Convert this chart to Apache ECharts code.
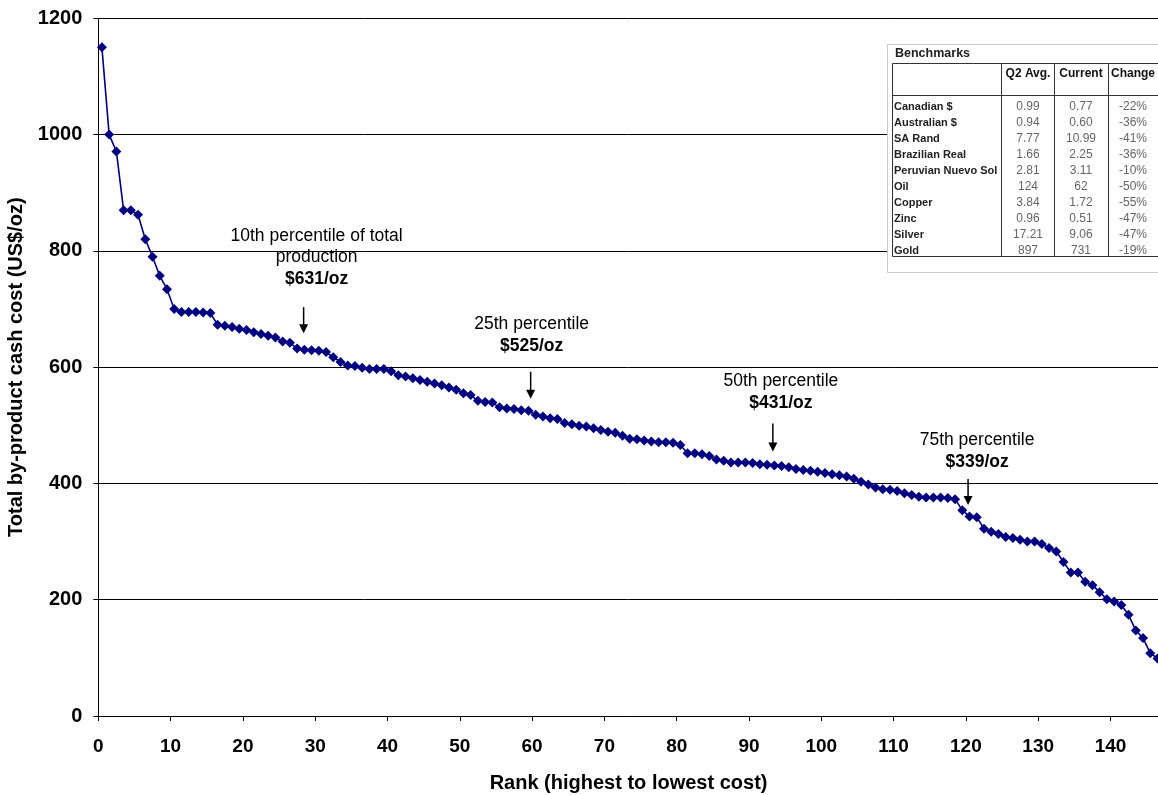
<!DOCTYPE html>
<html><head><meta charset="utf-8">
<script src="https://cdn.jsdelivr.net/npm/echarts@6/dist/echarts.min.js"></script>
<style>html,body{margin:0;padding:0;background:#fff}#c{width:1158px;height:795px}</style>
</head><body><div id="c"></div>
<script>
// Total by-product cash cost (US$/oz), ranked highest to lowest
const costs = [
  1150,1000,971,870,870,862,820,790,757,734,
  700,695,695,695,694,693,673,671,669,666,
  664,660,657,654,651,644,642,632,630,629,
  628,626,617,609,603,602,599,597,597,597,
  593,586,584,581,578,575,572,569,565,561,
  555,552,542,540,539,531,529,528,526,525,
  518,515,512,511,504,502,499,498,495,492,
  489,487,482,477,476,474,472,471,471,470,
  466,452,452,450,447,441,439,436,436,436,
  435,433,432,431,430,428,425,423,422,420,
  418,416,414,412,408,403,398,393,390,389,
  387,383,380,377,376,376,376,375,373,354,
  343,342,322,317,313,308,306,303,300,300,
  296,289,283,265,247,247,231,225,213,201,
  197,191,174,147,134,108,99
];
const xTickValues = [0,10,20,30,40,50,60,70,80,90,100,110,120,130,140];
const yTickValues = [0,200,400,600,800,1000,1200];

// percentile annotations
const pctLines = [['10th percentile of total','production'],['25th percentile'],['50th percentile'],['75th percentile']];
const pctValueText = ['$631/oz','$525/oz','$431/oz','$339/oz'];
const pctRank = [28.4, 59.8, 93.3, 120.3];
const pctCost = [631, 525, 431, 339];

// benchmarks table
const benchHeaders = ['Q2 Avg.','Current','Change'];
const benchNames = ['Canadian $','Australian $','SA Rand','Brazilian Real','Peruvian Nuevo Sol','Oil','Copper','Zinc','Silver','Gold'];
const benchQ2 = ['0.99','0.94','7.77','1.66','2.81','124','3.84','0.96','17.21','897'];
const benchCurrent = ['0.77','0.60','10.99','2.25','3.11','62','1.72','0.51','9.06','731'];
const benchChange = ['-22%','-36%','-41%','-36%','-10%','-50%','-55%','-47%','-47%','-19%'];

// layout (pixels) for annotations: dx of text, offsets above cost level
const annoLayout = [
  {dx:13, tip:16, top:42, val:70, lineGap:21},
  {dx:1,  tip:12, top:39, val:65, lineGap:21},
  {dx:8,  tip:14, top:42, val:62, lineGap:21},
  {dx:9,  tip:14, top:40, val:57, lineGap:21}
];

const FONT = '"Liberation Sans", Arial, sans-serif';
const chart = echarts.init(document.getElementById('c'), null, {renderer:'canvas'});

const seriesData = costs.map((v,i) => [i + 0.5, v]);

chart.setOption({
  animation: false,
  backgroundColor: '#fff',
  grid: {left: 98.3, top: 18.3, bottom: 79, right: -24.8, containLabel: false, outerBoundsMode: 'none'},
  xAxis: {
    type: 'value', min: 0, max: 150, interval: 10,
    name: 'Rank (highest to lowest cost)', nameLocation: 'middle', nameGap: 57,
    nameTextStyle: {fontFamily: FONT, fontWeight: 'bold', fontSize: 20, color: '#000', padding: [0, 24, 0, 0]},
    axisLine: {show: true, lineStyle: {color: '#000', width: 1}},
    axisTick: {show: true, inside: false, length: 5, lineStyle: {color: '#000'}},
    axisLabel: {fontFamily: FONT, fontWeight: 'bold', fontSize: 19, color: '#000', margin: 21,
      formatter: v => xTickValues.includes(v) ? String(v) : ''},
    splitLine: {show: false}
  },
  yAxis: {
    type: 'value', min: 0, max: 1200, interval: 200,
    name: 'Total by-product cash cost (US$/oz)', nameLocation: 'middle', nameGap: 68, nameRotate: 90,
    nameTextStyle: {fontFamily: FONT, fontWeight: 'bold', fontSize: 20, color: '#000'},
    axisLine: {show: true, lineStyle: {color: '#000', width: 1}},
    axisTick: {show: true, inside: false, length: 5, lineStyle: {color: '#000'}},
    axisLabel: {fontFamily: FONT, fontWeight: 'bold', fontSize: 20, color: '#000', margin: 16,
      formatter: v => yTickValues.includes(v) ? String(v) : ''},
    splitLine: {show: true, lineStyle: {color: '#000', width: 1}}
  },
  series: [{
    type: 'line', data: seriesData,
    lineStyle: {color: '#000080', width: 1.6},
    itemStyle: {color: '#000080'},
    symbol: 'diamond', symbolSize: 10, showAllSymbol: true,
    clip: false, z: 5
  }]
});

// ---- graphics: annotations + table ----
const g = [];
function txt(x, y, text, font, fill, align, valign) {
  g.push({type:'text', x:x, y:y, z:100, silent:true,
    style:{text:text, font:font, fill:fill||'#000', align:align||'center', verticalAlign:valign||'middle',
      textAlign:align||'center', textVerticalAlign:valign||'middle'}});
}
function line(x1,y1,x2,y2,color,w) {
  g.push({type:'line', z:100, silent:true, shape:{x1,y1,x2,y2}, style:{stroke:color||'#000', lineWidth:w||1}});
}

pctRank.forEach((r, k) => {
  const L = annoLayout[k];
  const x = chart.convertToPixel({xAxisIndex:0}, r);
  const y0 = chart.convertToPixel({yAxisIndex:0}, pctCost[k]);
  const tip = y0 - L.tip, top = y0 - L.top;
  line(x, top, x, tip - 6, '#000', 1.5);
  g.push({type:'polygon', z:100, silent:true, shape:{points:[[x-4.5, tip-9],[x+4.5, tip-9],[x, tip]]}, style:{fill:'#000'}});
  const tx = x + L.dx;
  txt(tx, y0 - L.val, pctValueText[k], 'bold 17.5px ' + FONT);
  const lines = pctLines[k];
  for (let j = 0; j < lines.length; j++) {
    const yy = y0 - L.val - L.lineGap * (lines.length - j) - 1;
    txt(tx, yy, lines[j], '17.5px ' + FONT);
  }
});

// table
const boxX = 887, boxY = 44, boxW = 290, boxH = 228;
g.push({type:'rect', z:90, silent:true, shape:{x:boxX+0.5, y:boxY+0.5, width:boxW, height:boxH}, style:{fill:'#fff', stroke:'#c8c8c8', lineWidth:1}});
txt(895, 54, 'Benchmarks', 'bold 12.5px ' + FONT, '#222', 'left', 'middle');
const tL = 892.5, tT = 63.5, tB = 256.5, tR = 1170, hB = 95.5;
const colX = [1001.5, 1054.5, 1108.5];
line(tL, tT, tR, tT, '#333', 1);
line(tL, tB, tR, tB, '#333', 1);
line(tL, hB, tR, hB, '#333', 1);
line(tL, tT, tL, tB, '#333', 1);
colX.forEach(cx => line(cx, tT, cx, tB, '#333', 1));
const colCenters = [1028, 1081, 1133];
benchHeaders.forEach((h, j) => txt(colCenters[j], 73.5, h, 'bold 12px ' + FONT, '#111'));
benchNames.forEach((n, i) => {
  const yy = 106.5 + i * 16.02;
  txt(894, yy, n, 'bold 11px ' + FONT, '#222', 'left', 'middle');
  txt(colCenters[0], yy, benchQ2[i], '12px ' + FONT, '#666');
  txt(colCenters[1], yy, benchCurrent[i], '12px ' + FONT, '#666');
  txt(colCenters[2], yy, benchChange[i], '12px ' + FONT, '#666');
});

chart.setOption({graphic: {elements: g}});
</script>
</body></html>
